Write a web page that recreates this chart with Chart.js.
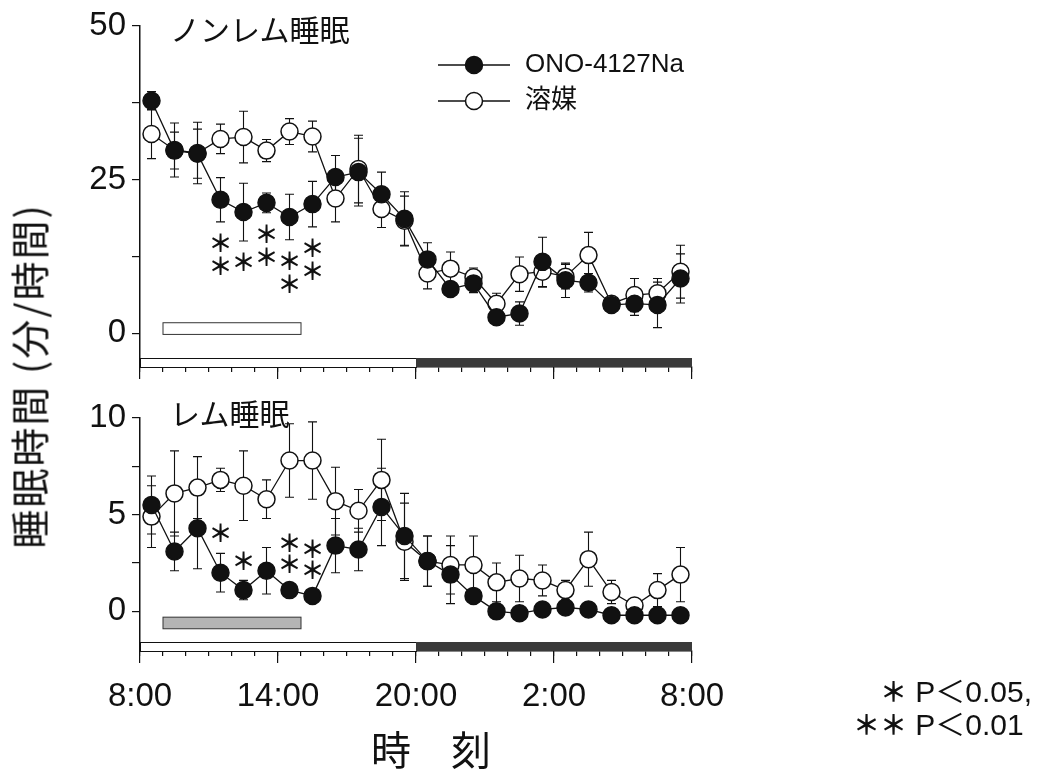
<!DOCTYPE html>
<html>
<head>
<meta charset="utf-8">
<script src="https://cdn.jsdelivr.net/npm/chart.js@4.4.0/dist/chart.umd.min.js"></script>
<style>
  body { margin:0; background:#fff; width:1038px; height:774px; position:relative; overflow:hidden; color:#111;
         font-family:"Liberation Sans", Arial, sans-serif; }
  canvas { position:absolute; left:0; }
  .txt { position:absolute; white-space:nowrap; line-height:1; }
  .jp { font-family:"Noto Sans CJK JP", sans-serif; }
  .note { font-family:"Liberation Sans", "Noto Sans CJK JP", sans-serif; }
  .note b { font-family:"Noto Sans CJK JP", sans-serif; font-weight:bold; font-size:27px; }
</style>
</head>
<body>
<canvas id="nremChart" width="1038" height="395" style="top:0"></canvas>
<canvas id="remChart" width="1038" height="384" style="top:390px"></canvas>

<div class="txt jp" style="left:170px;top:13px;font-size:30px">ノンレム睡眠</div>
<div class="txt jp" style="left:170px;top:397px;font-size:30px">レム睡眠</div>
<div class="txt jp" style="left:28px;top:376px;font-size:39px;letter-spacing:2px;transform:translate(-50%,-50%) rotate(-90deg)">睡眠時間 (分/時間)</div>
<div class="txt jp" style="left:371px;top:728px;font-size:40px">時　刻</div>
<div class="txt note" style="left:880px;top:677px;font-size:30px"><b>＊</b> P＜0.05,</div>
<div class="txt note" style="left:853px;top:710px;font-size:30px"><b>＊＊</b> P＜0.01</div>

<script>
// hours after 8:00, points sit in the middle of each hour
var hours = [0.5, 1.5, 2.5, 3.5, 4.5, 5.5, 6.5, 7.5, 8.5, 9.5, 10.5, 11.5,
             12.5, 13.5, 14.5, 15.5, 16.5, 17.5, 18.5, 19.5, 20.5, 21.5, 22.5, 23.5];
var timeLabels = ['8:00', '14:00', '20:00', '2:00', '8:00'];
var seriesNames = ['ONO-4127Na', '溶媒'];

// non-REM sleep (min/h)
var nremOno    = [37.8, 29.7, 29.2, 21.7, 19.7, 21.2, 18.9, 21.0, 25.4, 26.2, 22.6, 18.6,
                  12.0, 7.2, 8.1, 2.6, 3.2, 11.6, 8.6, 8.2, 4.6, 4.8, 4.6, 8.9];
var nremOnoErr = [1.5, 3.0, 4.0, 3.6, 4.7, 1.6, 3.7, 3.7, 3.5, 5.5, 3.6, 4.4,
                  2.7, 1.2, 1.5, 1.0, 1.9, 4.0, 2.8, 1.5, 1.0, 1.9, 3.7, 4.0];
var nremVeh    = [32.4, 29.8, 29.3, 31.6, 31.9, 29.7, 32.8, 32.0, 21.9, 26.7, 20.2, 18.3,
                  9.7, 10.5, 9.1, 4.8, 9.6, 10.0, 9.2, 12.7, 4.8, 6.2, 6.5, 10.0];
var nremVehErr = [4.0, 4.4, 5.0, 2.4, 4.2, 1.8, 2.1, 2.5, 3.8, 5.5, 3.0, 4.0,
                  2.5, 2.7, 1.5, 1.7, 2.8, 2.5, 2.0, 3.7, 1.0, 2.7, 2.4, 4.3];
var nremSig    = [0, 0, 0, 2, 1, 2, 2, 2, 0, 0, 0, 0, 0, 0, 0, 0, 0, 0, 0, 0, 0, 0, 0, 0];

// REM sleep (min/h)
var remOno    = [5.5, 3.1, 4.3, 2.0, 1.1, 2.1, 1.1, 0.8, 3.4, 3.2, 5.4, 3.9,
                 2.6, 1.9, 0.8, 0.0, -0.1, 0.1, 0.2, 0.1, -0.2, -0.2, -0.2, -0.2];
var remOnoErr = [1.5, 1.0, 2.1, 1.0, 0.5, 1.2, 0.3, 0.3, 1.4, 1.1, 2.0, 2.2,
                 1.3, 1.5, 0.3, 0.2, 0.2, 0.2, 0.2, 0.2, 0.2, 0.2, 0.2, 0.2];
var remVeh    = [4.9, 6.1, 6.4, 6.8, 6.5, 5.8, 7.8, 7.8, 5.7, 5.2, 6.8, 3.6,
                 2.6, 2.4, 2.4, 1.5, 1.7, 1.6, 1.1, 2.7, 1.0, 0.3, 1.1, 1.9];
var remVehErr = [1.6, 2.2, 1.6, 0.6, 1.8, 1.0, 1.9, 2.0, 1.75, 1.1, 2.1, 2.0,
                 1.3, 1.5, 1.5, 1.0, 1.2, 0.8, 0.5, 1.4, 0.6, 0.2, 0.85, 1.4];
var remSig    = [0, 0, 0, 1, 1, 0, 2, 2, 0, 0, 0, 0, 0, 0, 0, 0, 0, 0, 0, 0, 0, 0, 0, 0];

var nremTicks = [0, 12.5, 25, 37.5, 50];
var remTicks = [0, 2.5, 5, 7.5, 10];
var dosing = [1, 7];      // treatment period, hours after 8:00
var lightDark = [0, 12, 24];

var INK = '#111';
Chart.defaults.font.family = "'Liberation Sans', Arial, sans-serif";
Chart.defaults.color = INK;

function pts(vals) {
    return vals.map(function (v, i) { return { x: hours[i], y: v }; });
}

// mean +/- error bars, under the markers
var errorBars = {
    id: 'errorBars',
    beforeDatasetsDraw: function (chart) {
        var ctx = chart.ctx, y = chart.scales.y;
        chart.data.datasets.forEach(function (ds, i) {
            var meta = chart.getDatasetMeta(i);
            ctx.save();
            ctx.strokeStyle = INK;
            ctx.lineWidth = 1.1;
            meta.data.forEach(function (pt, j) {
                var e = ds.errors[j];
                var t = y.getPixelForValue(ds.data[j].y + e);
                var b = y.getPixelForValue(ds.data[j].y - e);
                ctx.beginPath();
                ctx.moveTo(pt.x, t); ctx.lineTo(pt.x, b);
                ctx.moveTo(pt.x - 4.5, t); ctx.lineTo(pt.x + 4.5, t);
                ctx.moveTo(pt.x - 4.5, b); ctx.lineTo(pt.x + 4.5, b);
                ctx.stroke();
            });
            ctx.restore();
        });
    }
};

// light/dark bar on the x axis and the dosing box
var periodBars = {
    id: 'periodBars',
    beforeDatasetsDraw: function (chart, args, opts) {
        var ctx = chart.ctx, x = chart.scales.x, y = chart.scales.y, area = chart.chartArea;
        ctx.save();
        var top = area.bottom - opts.barH;
        var x0 = x.getPixelForValue(lightDark[0]);
        var x1 = x.getPixelForValue(lightDark[1]);
        var x2 = x.getPixelForValue(lightDark[2]);
        ctx.fillStyle = '#fff';
        ctx.strokeStyle = INK;
        ctx.lineWidth = 1;
        ctx.fillRect(x0, top, x1 - x0, opts.barH);
        ctx.strokeRect(x0 + 0.5, top + 0.5, x1 - x0, opts.barH);
        ctx.fillStyle = '#3a3a3a';
        ctx.fillRect(x1, top, x2 - x1, opts.barH);

        var bx0 = x.getPixelForValue(dosing[0]);
        var bx1 = x.getPixelForValue(dosing[1]);
        var by0 = y.getPixelForValue(opts.boxTop);
        var by1 = y.getPixelForValue(opts.boxBottom);
        ctx.fillStyle = opts.boxFill;
        ctx.fillRect(bx0, by0, bx1 - bx0, by1 - by0);
        ctx.strokeStyle = '#333';
        ctx.strokeRect(bx0, by0, bx1 - bx0, by1 - by0);
        ctx.restore();
    }
};

// significance marks next to the ONO error bars
var sigMarks = {
    id: 'sigMarks',
    afterDatasetsDraw: function (chart, args, opts) {
        var ctx = chart.ctx, y = chart.scales.y;
        var ds = chart.data.datasets[0];
        var meta = chart.getDatasetMeta(0);
        ctx.save();
        ctx.fillStyle = INK;
        ctx.font = "bold 24px 'Noto Sans CJK JP'";
        ctx.textAlign = 'center';
        ctx.textBaseline = 'middle';
        opts.counts.forEach(function (n, j) {
            if (!n) return;
            var v = ds.data[j].y, e = ds.errors[j];
            var base = y.getPixelForValue(opts.dir > 0 ? v - e : v + e);
            for (var k = 0; k < n; k++) {
                ctx.fillText('＊', meta.data[j].x, base + opts.dir * (opts.offset + k * opts.step));
            }
        });
        ctx.restore();
    }
};

var lineLegend = {
    id: 'lineLegend',
    afterDraw: function (chart, args, opts) {
        if (!opts.show) return;
        var ctx = chart.ctx;
        chart.data.datasets.forEach(function (ds, i) {
            var yy = opts.y + i * opts.gap;
            ctx.save();
            ctx.strokeStyle = INK;
            ctx.lineWidth = 1.3;
            ctx.beginPath();
            ctx.moveTo(opts.x, yy); ctx.lineTo(opts.x + opts.len, yy);
            ctx.stroke();
            ctx.beginPath();
            ctx.arc(opts.x + opts.len / 2, yy, 8.5, 0, Math.PI * 2);
            ctx.fillStyle = ds.pointBackgroundColor;
            ctx.fill();
            ctx.lineWidth = 1.5;
            ctx.stroke();
            ctx.fillStyle = INK;
            ctx.font = "26px 'Liberation Sans', 'Noto Sans CJK JP'";
            ctx.textBaseline = 'middle';
            ctx.fillText(ds.label, opts.x + opts.len + 15, yy);
            ctx.restore();
        });
    }
};

function datasets(ono, onoErr, veh, vehErr) {
    return [{
        label: seriesNames[0],
        data: pts(ono),
        errors: onoErr,
        borderColor: INK,
        borderWidth: 1.3,
        pointRadius: 8.5,
        pointBackgroundColor: INK,
        pointBorderColor: INK,
        pointBorderWidth: 1.5
    }, {
        label: seriesNames[1],
        data: pts(veh),
        errors: vehErr,
        borderColor: INK,
        borderWidth: 1.3,
        pointRadius: 8.5,
        pointBackgroundColor: '#fff',
        pointBorderColor: INK,
        pointBorderWidth: 1.5
    }];
}

function makeChart(id, cfg) {
    return new Chart(document.getElementById(id), {
        type: 'line',
        data: { datasets: datasets(cfg.ono, cfg.onoErr, cfg.veh, cfg.vehErr) },
        plugins: [errorBars, periodBars, sigMarks, lineLegend],
        options: {
            responsive: false,
            animation: false,
            events: [],
            layout: { padding: { left: 0, top: cfg.padTop, right: 346, bottom: 0 } },
            scales: {
                x: {
                    type: 'linear', position: 'bottom', min: 0, max: 24, weight: 0,
                    afterFit: function (s) { s.height = 0; },
                    ticks: { stepSize: 1, display: false, autoSkip: false },
                    grid: { drawOnChartArea: false, tickLength: 5, color: INK, lineWidth: 1.2 },
                    border: { color: INK, width: 1.5 }
                },
                x2: {
                    type: 'linear', position: 'bottom', min: 0, max: 24, weight: 1,
                    afterFit: function (s) { s.height = cfg.axisH; },
                    ticks: {
                        stepSize: 6, display: cfg.showTime, autoSkip: false, maxRotation: 0,
                        padding: 14, color: INK, font: { size: 33 },
                        callback: function (v) { return timeLabels[v / 6]; }
                    },
                    grid: { drawOnChartArea: false, tickLength: 12, color: INK, lineWidth: 1.2 },
                    border: { display: false }
                },
                y: {
                    min: cfg.yMin, max: cfg.yMax,
                    afterBuildTicks: function (s) { s.ticks = cfg.ticks.map(function (v) { return { value: v }; }); },
                    afterFit: function (s) { s.width = 140; },
                    ticks: {
                        padding: 6, color: INK, font: { size: 33 },
                        callback: function (v) { return cfg.labelled.indexOf(v) >= 0 ? String(v) : ''; }
                    },
                    grid: { drawOnChartArea: false, tickLength: 8, color: INK, lineWidth: 1.2 },
                    border: { color: INK, width: 1.5 }
                }
            },
            plugins: {
                legend: { display: false },
                tooltip: { enabled: false },
                periodBars: cfg.bars,
                sigMarks: cfg.sig,
                lineLegend: cfg.legend
            }
        }
    });
}

makeChart('nremChart', {
    ono: nremOno, onoErr: nremOnoErr, veh: nremVeh, vehErr: nremVehErr,
    padTop: 25, axisH: 28, showTime: false,
    yMin: -5.5, yMax: 50, ticks: nremTicks, labelled: [0, 25, 50],
    bars: { barH: 9, boxTop: 1.7, boxBottom: -0.2, boxFill: '#fff' },
    sig: { counts: nremSig, dir: 1, offset: 21, step: 23 },
    legend: { show: true, x: 438, y: 65, gap: 36, len: 72 }
});

makeChart('remChart', {
    ono: remOno, onoErr: remOnoErr, veh: remVeh, vehErr: remVehErr,
    padTop: 28, axisH: 123, showTime: true,
    yMin: -2.05, yMax: 10, ticks: remTicks, labelled: [0, 5, 10],
    bars: { barH: 9, boxTop: -0.3, boxBottom: -0.9, boxFill: '#b4b4b4' },
    sig: { counts: remSig, dir: -1, offset: 20, step: 21 },
    legend: { show: false }
});
</script>
</body>
</html>
